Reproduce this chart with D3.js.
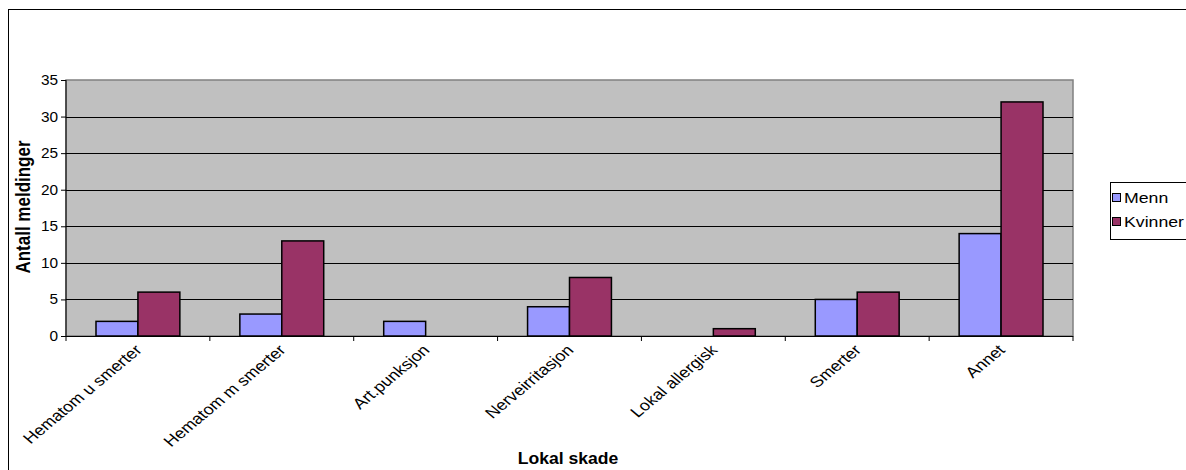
<!DOCTYPE html>
<html>
<head>
<meta charset="utf-8">
<script src="https://cdn.jsdelivr.net/npm/d3@7"></script>
<style>
  body { margin: 0; background: #fff; }
  text { font-family: "Liberation Sans", Arial, sans-serif; }
</style>
</head>
<body>
<svg id="chart" width="1186" height="470"></svg>
<script>
// chart data
var categories = ['Hematom u smerter', 'Hematom m smerter', 'Art.punksjon', 'Nerveirritasjon', 'Lokal allergisk', 'Smerter', 'Annet'];
var seriesNames = ['Menn', 'Kvinner'];
var menn = [2, 3, 2, 4, 0, 5, 14];
var kvinner = [6, 13, 0, 8, 1, 6, 32];
var yTicks = [0, 5, 10, 15, 20, 25, 30, 35];
var colors = ['#9999ff', '#993366'];

var svg = d3.select('#chart');
var plot = {left: 66, right: 1073, top: 80, bottom: 336};
var stretch = 1.2; // the source picture is a bit wider than tall

// outer chart border (runs past the window on right and bottom)
svg.append('rect')
    .attr('x', 8.5).attr('y', 9.5)
    .attr('width', 1200).attr('height', 500)
    .attr('fill', '#fff').attr('stroke', '#000').attr('stroke-width', 1);

var x0 = d3.scaleBand().domain(categories)
    .range([plot.left, plot.right])
    .paddingInner(0.417).paddingOuter(0.2085);
var x1 = d3.scaleBand().domain(seriesNames).range([0, x0.bandwidth()]);
var y = d3.scaleLinear().domain([0, 35]).range([plot.bottom, plot.top]);

// plot background
svg.append('rect')
    .attr('x', plot.left).attr('y', plot.top)
    .attr('width', plot.right - plot.left).attr('height', plot.bottom - plot.top)
    .attr('fill', '#c0c0c0').attr('stroke', '#808080').attr('stroke-width', 1.5);

// gridlines
svg.selectAll('.grid').data(yTicks.slice(1, -1)).enter()
    .append('line')
    .attr('x1', plot.left).attr('x2', plot.right)
    .attr('y1', function(d) { return Math.round(y(d)) + 0.5; })
    .attr('y2', function(d) { return Math.round(y(d)) + 0.5; })
    .attr('stroke', '#000').attr('stroke-width', 1);

// bars
var rows = categories.map(function(c, i) {
    return {cat: c, values: [menn[i], kvinner[i]]};
});
var groups = svg.selectAll('.grp').data(rows).enter()
    .append('g')
    .attr('transform', function(d) { return 'translate(' + x0(d.cat) + ',0)'; });
groups.selectAll('rect').data(function(d) {
        return d.values.map(function(v, j) { return {name: seriesNames[j], value: v, idx: j}; });
    }).enter()
    .filter(function(d) { return d.value > 0; })
    .append('rect')
    .attr('x', function(d) { return x1(d.name); })
    .attr('y', function(d) { return y(d.value); })
    .attr('width', x1.bandwidth())
    .attr('height', function(d) { return plot.bottom - y(d.value); })
    .attr('fill', function(d) { return colors[d.idx]; })
    .attr('stroke', '#000').attr('stroke-width', 1.5);

// y axis
var yAxis = d3.axisLeft(y).tickValues(yTicks).tickSize(5).tickPadding(0).tickFormat('');
var yg = svg.append('g').attr('transform', 'translate(' + plot.left + ',0)').call(yAxis);
yg.select('.domain').attr('stroke', '#000').attr('d', 'M0,' + plot.top + 'V' + plot.bottom);
svg.selectAll('.ylabel').data(yTicks).enter()
    .append('text')
    .attr('text-anchor', 'end')
    .attr('font-size', '14px')
    .attr('transform', function(d) {
        return 'translate(' + (plot.left - 8) + ',' + (y(d) + 5) + ') scale(1.1,1)';
    })
    .text(function(d) { return d; });

// x axis line and ticks at category boundaries
svg.append('line')
    .attr('x1', plot.left).attr('x2', plot.right)
    .attr('y1', plot.bottom + 0.5).attr('y2', plot.bottom + 0.5)
    .attr('stroke', '#000');
var step = x0.step();
svg.selectAll('.xtick').data(d3.range(categories.length + 1)).enter()
    .append('line')
    .attr('x1', function(i) { return plot.left + i * step; })
    .attr('x2', function(i) { return plot.left + i * step; })
    .attr('y1', plot.bottom).attr('y2', plot.bottom + 5)
    .attr('stroke', '#000');

// rotated category labels
svg.selectAll('.xlabel').data(categories).enter()
    .append('text')
    .attr('text-anchor', 'end')
    .attr('font-size', '15px')
    .attr('transform', function(d) {
        var cx = x0(d) + x0.bandwidth() / 2;
        return 'translate(' + (cx + 5) + ',' + (plot.bottom + 15) + ') scale(' + stretch + ',1) rotate(-45)';
    })
    .text(function(d) { return d; });

// axis titles
svg.append('text')
    .attr('text-anchor', 'middle').attr('font-size', '17px').attr('font-weight', 'bold')
    .attr('transform', 'translate(30,207) scale(' + stretch + ',1) rotate(-90)')
    .text('Antall meldinger');
svg.append('text')
    .attr('text-anchor', 'middle').attr('font-size', '16px').attr('font-weight', 'bold')
    .attr('transform', 'translate(568,464) scale(1.1,1)')
    .text('Lokal skade');

// legend
var lg = svg.append('g').attr('transform', 'translate(1110,182)');
lg.append('rect')
    .attr('x', 0.5).attr('y', 0.5).attr('width', 120).attr('height', 57)
    .attr('fill', '#fff').attr('stroke', '#000');
var items = lg.selectAll('.item').data(seriesNames).enter()
    .append('g')
    .attr('transform', function(d, i) { return 'translate(2,' + (15 + i * 24) + ')'; });
items.append('rect')
    .attr('x', 0.5).attr('y', -3.5).attr('width', 8).attr('height', 8)
    .attr('fill', function(d, i) { return colors[i]; })
    .attr('stroke', '#000');
items.append('text')
    .attr('transform', 'translate(12,6) scale(1.18,1)')
    .attr('font-size', '15px')
    .text(function(d) { return d; });
</script>
</body>
</html>
